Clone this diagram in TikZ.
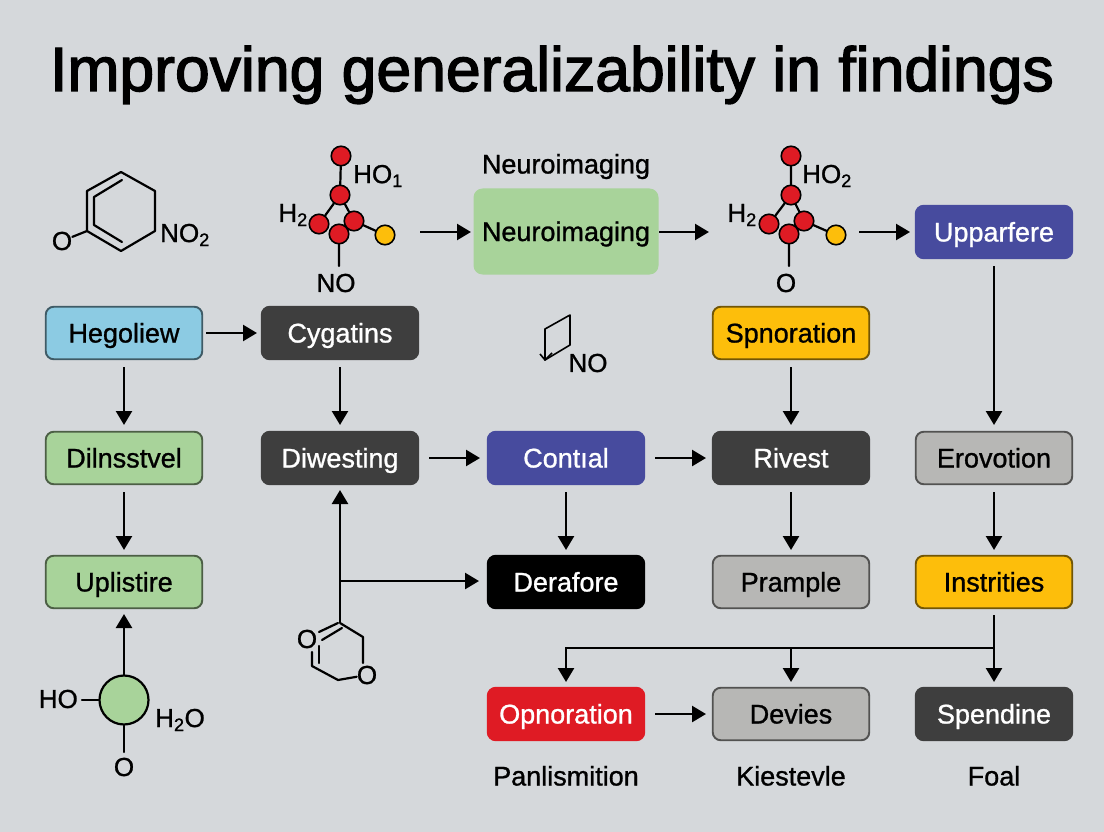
\documentclass[tikz,border=0pt]{standalone}
\usepackage{fontspec}
\setmainfont[FakeBold=1.0]{Liberation Sans}
\newfontfamily\titlefont[FakeBold=2.2]{Liberation Sans}
\usetikzlibrary{arrows.meta}
\definecolor{bg}{HTML}{D5D8DB}
\definecolor{cblue}{HTML}{8CCBE3}
\definecolor{cgreen}{HTML}{A8D39A}
\definecolor{cdark}{HTML}{3E3E3E}
\definecolor{cindigo}{HTML}{474B9E}
\definecolor{camber}{HTML}{FDBE0B}
\definecolor{cgrey}{HTML}{B7B7B5}
\definecolor{cred}{HTML}{DF1B24}
\tikzset{
 x=1pt,y=-1pt,
 box/.style={draw=#1!45!black,line width=1.9pt,rounded corners=8pt,minimum width=156.5pt,minimum height=52.5pt,inner sep=0pt,font=\fontsize{27}{27}\selectfont,text height=19pt,text depth=0pt},
 lightbox/.style={box=#1,fill=#1,text=black},
 darkbox/.style={box=#1,draw=#1,fill=#1,text=white},
 arr/.style={line width=2.5pt,-{Triangle[length=14pt,width=16pt]}},
 bond/.style={line width=2.2pt,line cap=round,line join=round},
 lab/.style={font=\fontsize{27}{27}\selectfont,inner sep=0pt,text height=19pt,text depth=0pt},
 chem/.style={font=\fontsize{26}{26}\selectfont,inner sep=0pt},
 atom/.style={circle,draw=black,line width=1.6pt,fill=cred,minimum size=19.5pt,inner sep=0pt},
 yatom/.style={atom,fill=camber},
}
\begin{document}
\begin{tikzpicture}
\useasboundingbox (0,0) rectangle (1104,832);
\fill[bg] (0,0) rectangle (1104,832);
\node[font=\titlefont\fontsize{62.5}{62.5}\selectfont,inner sep=0pt,text height=44pt,text depth=0pt] (title) at (552,69) {Improving generalizability in findings};

% first row
\node[lab] (ntop) at (566,164) {Neuroimaging};
\node[rounded corners=9pt,fill=cgreen,minimum width=185pt,minimum height=86pt,inner sep=0pt,font=\fontsize{27}{27}\selectfont,text height=19pt,text depth=0pt] (neuro) at (566,231.5) {Neuroimaging};
\node[darkbox=cindigo] (uppar) at (994,232) {Upparfere};

% boxes
\node[lightbox=cblue] (hego) at (124,333) {Hegoliew};
\node[darkbox=cdark] (cyga) at (340,333) {Cygatins};
\node[lightbox=camber] (spno) at (791,333) {Spnoration};
\node[lightbox=cgreen] (dilns) at (124,458) {Dilnsstvel};
\node[darkbox=cdark] (diwe) at (340,458) {Diwesting};
\node[darkbox=cindigo] (cont) at (566,458) {Contıal};
\node[darkbox=cdark] (rive) at (791,458) {Rivest};
\node[lightbox=cgrey] (erov) at (994,458) {Erovotion};
\node[lightbox=cgreen] (upli) at (124,582) {Uplistire};
\node[darkbox=black] (dera) at (566,582) {Derafore};
\node[lightbox=cgrey] (pram) at (791,582) {Prample};
\node[lightbox=camber] (inst) at (994,582) {Instrities};
\node[darkbox=cred] (opno) at (566,714) {Opnoration};
\node[lightbox=cgrey] (devi) at (791,714) {Devies};
\node[darkbox=cdark] (spen) at (994,714) {Spendine};
\node[lab] (pan) at (566,776) {Panlismition};
\node[lab] (kie) at (791,776) {Kiestevle};
\node[lab] (foal) at (994,776) {Foal};

% molecule 1: ring
\coordinate (r1) at (121,172);
\coordinate (r2) at (155,191);
\coordinate (r3) at (155,231);
\coordinate (r4) at (121,251);
\coordinate (r5) at (87,231);
\coordinate (r6) at (87,191);
\draw[bond] (r1)--(r2)--(r3)--(r4)--(r5)--(r6)--cycle;
\coordinate (ri1) at (122,180);
\coordinate (ri2) at (94,197);
\coordinate (ri3) at (94,225);
\coordinate (ri4) at (122,242);
\draw[bond] (ri1)--(ri2)--(ri3)--(ri4);
\node[chem] (mo) at (62,241) {O};
\node[chem,anchor=west] (mno2) at (160,235) {NO\textsubscript{2}};
\draw[bond] (mo)--(r5);

% molecule 2
\node[atom] (a1) at (341,156) {};
\node[atom] (a2) at (340,195) {};
\node[atom] (a3) at (319,224) {};
\node[atom] (a4) at (354,221) {};
\node[atom] (a5) at (339,234) {};
\node[yatom] (a6) at (385,235) {};
\coordinate (a7) at (339,266);
\draw[bond] (a1)--(a2) (a2)--(a3) (a2)--(a4) (a4)--(a6) (a5)--(a7);
\node[chem,anchor=west] (ho1) at (353,176) {HO\textsubscript{1}};
\node[chem,anchor=east] (h2a) at (308,215) {H\textsubscript{2}};
\node[chem] (no1) at (336,283) {NO};

% molecule 3
\node[atom] (b1) at (791,156) {};
\node[atom] (b2) at (791,195) {};
\node[atom] (b3) at (769,224) {};
\node[atom] (b4) at (804,221) {};
\node[atom] (b5) at (789,234) {};
\node[yatom] (b6) at (836,235) {};
\coordinate (b7) at (789,266);
\draw[bond] (b1)--(b2) (b2)--(b3) (b2)--(b4) (b4)--(b6) (b5)--(b7);
\node[chem,anchor=west] (ho2) at (802,176) {HO\textsubscript{2}};
\node[chem,anchor=east] (h2b) at (757,215) {H\textsubscript{2}};
\node[chem] (o3) at (786,283) {O};

% small fragment
\coordinate (f1) at (570,315);
\coordinate (f2) at (570,345);
\coordinate (f3) at (545,360);
\coordinate (f4) at (545,329);
\coordinate (f5) at (540,354);
\coordinate (f6) at (545,360);
\coordinate (f7) at (552,353);
\draw[line width=1.6pt,line join=round] (f4)--(f1)--(f2)--(f3)--cycle;
\draw[line width=1.6pt,line join=round] (f5)--(f6)--(f7);
\node[chem] (fno) at (588,363) {NO};

% lower-left green circle
\node[circle,draw=black,line width=2.2pt,fill=cgreen,minimum size=49pt,inner sep=0pt] (gc) at (124,700) {};
\node[chem,anchor=east] (gho) at (78,699) {HO};
\node[chem] (gh2o) at (180,720) {H\textsubscript{2}O};
\node[chem] (go) at (124,767) {O};
\coordinate (gb) at (124,752);
\coordinate (gl) at (82,700);
\draw[bond] (gl)--(gc) (gc)--(gb);

% lower ring
\coordinate (q1) at (340,623);
\coordinate (q2) at (363,637);
\coordinate (q3) at (363,663);
\coordinate (q4) at (338,680);
\coordinate (q5) at (312,666);
\coordinate (q6) at (312,652);
\node[chem] (qo1) at (307,639) {O};
\node[chem] (qo2) at (367,675) {O};
\draw[bond] (q1)--(q2)--(q3) (qo2)--(q4)--(q5)--(q6);
\coordinate (q1a) at (319,632);
\coordinate (q1b) at (338,623);
\coordinate (q1c) at (322,640);
\coordinate (q1d) at (342,628);
\draw[bond] (q1a)--(q1b) (q1c)--(q1d);
\coordinate (q7) at (319,646);
\coordinate (q8) at (319,663);
\draw[bond] (q7)--(q8);

% connectors
\coordinate (e1) at (420,232);
\coordinate (e2) at (471,232);
\draw[arr] (e1)--(e2);
\coordinate (e3) at (659,232);
\coordinate (e4) at (709,232);
\draw[arr] (e3)--(e4);
\coordinate (e5) at (859,232);
\coordinate (e6) at (910,232);
\draw[arr] (e5)--(e6);
\coordinate (s1) at (206,333);
\coordinate (s2) at (257,333);
\draw[arr] (s1)--(s2);
\coordinate (s3) at (429,458);
\coordinate (s4) at (480,458);
\draw[arr] (s3)--(s4);
\coordinate (s5) at (655,458);
\coordinate (s6) at (706,458);
\draw[arr] (s5)--(s6);
\coordinate (s7) at (655,714);
\coordinate (s8) at (706,714);
\draw[arr] (s7)--(s8);

\coordinate (d1) at (124,367);
\coordinate (d2) at (124,425);
\draw[arr] (d1)--(d2);
\coordinate (d3) at (124,492);
\coordinate (d4) at (124,550);
\draw[arr] (d3)--(d4);
\coordinate (d5) at (340,367);
\coordinate (d6) at (340,425);
\draw[arr] (d5)--(d6);
\coordinate (d7) at (566,492);
\coordinate (d8) at (566,550);
\draw[arr] (d7)--(d8);
\coordinate (d9) at (791,367);
\coordinate (d10) at (791,425);
\draw[arr] (d9)--(d10);
\coordinate (d11) at (791,492);
\coordinate (d12) at (791,550);
\draw[arr] (d11)--(d12);
\coordinate (d13) at (994,266);
\coordinate (d14) at (994,425);
\draw[arr] (d13)--(d14);
\coordinate (d15) at (994,492);
\coordinate (d16) at (994,550);
\draw[arr] (d15)--(d16);

% green circle up to Uplistire
\coordinate (g1) at (124,676);
\coordinate (g2) at (124,614);
\draw[arr] (g1)--(g2);

% lower ring up to Diwesting, branch to Derafore
\coordinate (v1) at (340,623);
\coordinate (v2) at (340,490);
\draw[arr] (v1)--(v2);
\coordinate (v3) at (340,581);
\coordinate (v4) at (479,581);
\draw[arr] (v3)--(v4);

% Instrities bus
\coordinate (i1) at (994,615);
\coordinate (i2) at (994,648);
\coordinate (i3) at (566,648);
\coordinate (i4) at (566,682);
\coordinate (i5) at (791,648);
\coordinate (i6) at (791,682);
\coordinate (i7) at (994,682);
\draw[line width=2.5pt] (i1)--(i2);
\draw[arr] (i2)--(i3)--(i4);
\draw[arr] (i5)--(i6);
\draw[arr] (i2)--(i7);
\end{tikzpicture}
\end{document}
